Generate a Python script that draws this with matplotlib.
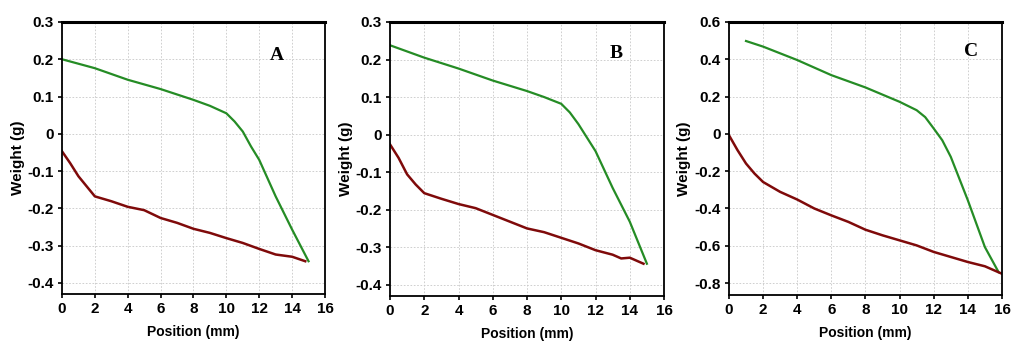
import matplotlib
matplotlib.use("Agg")
import matplotlib.pyplot as plt

plt.rcParams["font.family"] = ["Liberation Sans", "DejaVu Sans"]

# ---------------------------------------------------------------------------
# Data (position in mm, weight in g)
# ---------------------------------------------------------------------------
a_green_x = [0, 2, 4, 6, 8, 9, 10, 10.5, 11, 11.5, 12, 13, 14, 15]
a_green_y = [0.200, 0.176, 0.145, 0.120, 0.091, 0.075, 0.055, 0.033, 0.006,
             -0.034, -0.070, -0.168, -0.257, -0.342]
a_red_x = [0, 0.5, 1, 1.5, 2, 3, 4, 5, 6, 7, 8, 9, 10, 11, 12, 13, 14, 14.8]
a_red_y = [-0.047, -0.079, -0.114, -0.141, -0.168, -0.181, -0.196, -0.205,
           -0.226, -0.239, -0.255, -0.266, -0.280, -0.293, -0.309, -0.324,
           -0.330, -0.342]

b_green_x = [0, 2, 4, 6, 8, 9, 10, 10.5, 11, 11.5, 12, 13, 14, 15]
b_green_y = [0.238, 0.205, 0.176, 0.144, 0.116, 0.100, 0.082, 0.059, 0.028,
             -0.008, -0.044, -0.142, -0.232, -0.344]
b_red_x = [0, 0.5, 1, 1.5, 2, 3, 4, 5, 6, 7, 8, 9, 10, 11, 12, 13, 13.5, 14, 14.8]
b_red_y = [-0.026, -0.062, -0.106, -0.133, -0.156, -0.171, -0.185, -0.196,
           -0.214, -0.232, -0.250, -0.260, -0.275, -0.290, -0.308, -0.320,
           -0.330, -0.328, -0.344]

c_green_x = [1, 2, 4, 6, 8, 10, 11, 11.5, 12, 12.5, 13, 14, 15, 15.8]
c_green_y = [0.498, 0.468, 0.396, 0.315, 0.249, 0.172, 0.127, 0.090, 0.029,
             -0.034, -0.123, -0.356, -0.607, -0.741]
c_red_x = [0, 0.5, 1, 1.5, 2, 3, 4, 5, 6, 7, 8, 9, 10, 11, 12, 13, 14, 15, 16]
c_red_y = [-0.007, -0.087, -0.159, -0.213, -0.258, -0.311, -0.352, -0.400,
           -0.437, -0.472, -0.514, -0.544, -0.571, -0.598, -0.633, -0.660,
           -0.687, -0.710, -0.750]

x_ticks = [0, 2, 4, 6, 8, 10, 12, 14, 16]
ab_y_ticks = [0.3, 0.2, 0.1, 0, -0.1, -0.2, -0.3, -0.4]
c_y_ticks = [0.6, 0.4, 0.2, 0, -0.2, -0.4, -0.6, -0.8]

GREEN = "#258c25"
RED = "#7f0a0a"

panels = [
    # rect, ylim, yticks, green, red, letter, letter pos
    ([0.0612, 0.1378, 0.2596, 0.7977], (-0.43, 0.3), ab_y_ticks,
     (a_green_x, a_green_y), (a_red_x, a_red_y), "A", (13.1, 0.21)),
    ([0.3850, 0.1320, 0.2705, 0.8035], (-0.43, 0.3), ab_y_ticks,
     (b_green_x, b_green_y), (b_red_x, b_red_y), "B", (13.2, 0.215)),
    ([0.7196, 0.1349, 0.2695, 0.8006], (-0.864, 0.6), c_y_ticks,
     (c_green_x, c_green_y), (c_red_x, c_red_y), "C", (14.2, 0.44)),
]

fig = plt.figure(figsize=(10.13, 3.41), dpi=100)

for rect, ylim, yticks, green, red, letter, lpos in panels:
    ax = fig.add_axes(rect)
    ax.plot(green[0], green[1], color=GREEN, lw=1.6)
    ax.plot(red[0], red[1], color=RED, lw=1.8)

    ax.set_xlim(0, 16)
    ax.set_ylim(*ylim)
    ax.set_xticks(x_ticks)
    ax.set_yticks(yticks)
    ax.set_yticklabels([f"{t:g}" for t in yticks])
    ax.grid(True, color="#c8c8c8", linestyle=(0, (2, 2)), linewidth=0.6)

    for s in ax.spines.values():
        s.set_linewidth(1.3)
    ax.spines["top"].set_linewidth(2.2)

    ax.tick_params(direction="out", length=3, width=1.2, labelsize=11,
                   pad=3)
    for lab in ax.get_xticklabels() + ax.get_yticklabels():
        lab.set_fontweight("bold")

    ax.set_xlabel("Position (mm)", fontsize=10, fontweight="bold", labelpad=6)
    ax.set_ylabel("Weight (g)", fontsize=11, fontweight="bold", labelpad=2)

    ax.text(lpos[0], lpos[1], letter, fontsize=14, fontweight="bold",
            family=["Liberation Serif", "DejaVu Serif"], ha="center",
            va="center")

fig.savefig("out.png", dpi=100)
